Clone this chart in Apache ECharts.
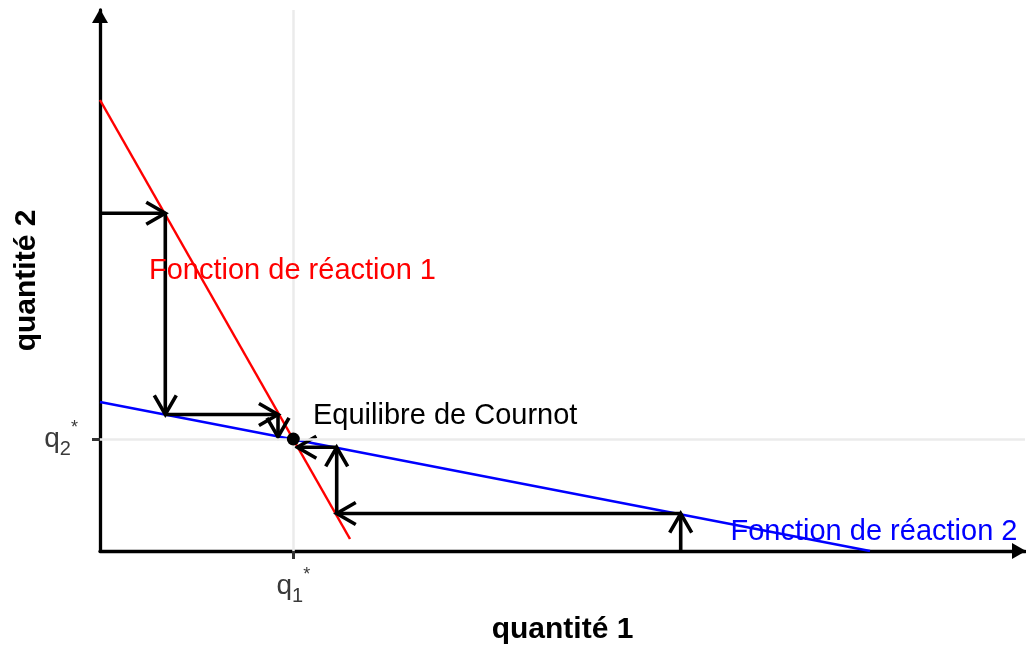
<!DOCTYPE html>
<html>
<head>
<meta charset="utf-8">
<script src="https://cdn.jsdelivr.net/npm/echarts@6/dist/echarts.min.js"></script>
<style>
html,body{margin:0;padding:0;background:#fff;}
#chart{width:1026px;height:646px;}
</style>
</head>
<body>
<div id="chart"></div>
<script>
// ---- data ----
const q1Star = 1.933;
const q2Star = 1.12;
const reaction1X = [0, 2.50];
const reaction1Y = [4.51, 0.12];
const reaction2X = [0, 7.70];
const reaction2Y = [1.49, 0];
const cobwebLeftX = [0, 0.653, 0.653, 1.78, 1.78];
const cobwebLeftY = [3.377, 3.377, 1.365, 1.365, 1.14];
const cobwebRightX = [5.807, 5.807, 2.367, 2.367, 1.973];
const cobwebRightY = [0, 0.375, 0.375, 1.037, 1.037];
const labelText = ['Fonction de réaction 1', 'Fonction de réaction 2', 'Equilibre de Cournot'];
const labelX = [1.925, 7.74, 2.13];
const labelY = [2.80, 0.187, 1.355];
const labelColor = ['#FF0000', '#0000FF', '#000000'];
const labelAlign = ['center', 'center', 'left'];
const xTitle = 'quantité 1';
const yTitle = 'quantité 2';

const FONT = '"Liberation Sans", Arial, Helvetica, sans-serif';

function pairs(xs, ys) { return xs.map((x, i) => [x, ys[i]]); }
function segments(xs, ys) {
  const out = [];
  for (let i = 0; i < xs.length - 1; i++) out.push([xs[i], ys[i], xs[i + 1], ys[i + 1]]);
  return out;
}
const arrowData = segments(cobwebLeftX, cobwebLeftY).concat(segments(cobwebRightX, cobwebRightY));
const labelData = labelText.map((t, i) => [labelX[i], labelY[i], i]);

function renderArrow(params, api) {
  const p0 = api.coord([api.value(0), api.value(1)]);
  const p1 = api.coord([api.value(2), api.value(3)]);
  const ang = Math.atan2(p1[1] - p0[1], p1[0] - p0[0]);
  const L = 22, a = Math.PI / 6;
  const w1 = [p1[0] - L * Math.cos(ang - a), p1[1] - L * Math.sin(ang - a)];
  const w2 = [p1[0] - L * Math.cos(ang + a), p1[1] - L * Math.sin(ang + a)];
  return {
    type: 'group',
    children: [
      { type: 'line', shape: { x1: p0[0], y1: p0[1], x2: p1[0], y2: p1[1] },
        style: { stroke: '#000', lineWidth: 3.6, lineCap: 'butt' } },
      { type: 'polyline', shape: { points: [w1, p1, w2] },
        style: { stroke: '#000', lineWidth: 3.6, fill: null, lineJoin: 'miter' } }
    ]
  };
}
function renderLabel(params, api) {
  const i = api.value(2);
  const p = api.coord([api.value(0), api.value(1)]);
  return {
    type: 'text', x: p[0], y: p[1],
    style: { text: labelText[i], fill: labelColor[i], fontSize: 29, fontFamily: FONT,
             align: labelAlign[i], verticalAlign: 'middle' }
  };
}

const tickRich = {
  q: { fontSize: 28, lineHeight: 40, verticalAlign: 'middle', color: '#3a3a3a', fontFamily: FONT },
  s: { fontSize: 20, lineHeight: 26, verticalAlign: 'bottom', color: '#3a3a3a', fontFamily: FONT },
  p: { fontSize: 18, lineHeight: 20, verticalAlign: 'top', color: '#3a3a3a', fontFamily: FONT }
};

const chart = echarts.init(document.getElementById('chart'), null, { renderer: 'canvas' });
chart.setOption({
  animation: false,
  backgroundColor: '#ffffff',
  grid: { left: 100, right: 1, top: 10, bottom: 95, containLabel: false, outerBoundsMode: 'none' },
  xAxis: {
    type: 'value', min: 0, max: 9.25,
    name: xTitle, nameLocation: 'middle', nameGap: 64, nameMoveOverlap: false,
    nameTextStyle: { fontSize: 30, fontWeight: 'bold', color: '#000', fontFamily: FONT },
    axisLine: { show: true, onZero: false, lineStyle: { color: '#000', width: 3.3 },
                symbol: ['none', 'triangle'], symbolSize: [16, 14], symbolOffset: [0, -6] },
    axisTick: { show: true, customValues: [q1Star], length: 8, lineStyle: { color: '#333333', width: 3 } },
    axisLabel: { show: true, customValues: [q1Star], margin: 15,
                 formatter: () => '{q|q}{s|1}{p|*}', rich: tickRich },
    splitLine: { show: false }
  },
  yAxis: {
    type: 'value', min: 0, max: 5.41,
    name: yTitle, nameLocation: 'middle', nameGap: 58, nameMoveOverlap: false,
    nameTextStyle: { fontSize: 30, fontWeight: 'bold', color: '#000', fontFamily: FONT },
    axisLine: { show: true, onZero: false, lineStyle: { color: '#000', width: 3.3 },
                symbol: ['none', 'triangle'], symbolSize: [16, 14], symbolOffset: [0, -6] },
    axisTick: { show: true, customValues: [q2Star], length: 8, lineStyle: { color: '#333333', width: 3 } },
    axisLabel: { show: true, customValues: [q2Star], margin: 22,
                 formatter: () => '{q|q}{s|2}{p|*}', rich: tickRich },
    splitLine: { show: false }
  },
  series: [
    {
      type: 'line', data: [], z: 1, silent: true,
      markLine: {
        silent: true, symbol: ['none', 'none'], animation: false,
        label: { show: false },
        lineStyle: { color: '#EBEBEB', width: 2.5, type: 'solid' },
        data: [{ xAxis: q1Star }, { yAxis: q2Star }]
      }
    },
    { type: 'line', data: pairs(reaction1X, reaction1Y), showSymbol: false, z: 3,
      lineStyle: { color: '#FF0000', width: 2.5 }, silent: true },
    { type: 'line', data: pairs(reaction2X, reaction2Y), showSymbol: false, z: 3,
      lineStyle: { color: '#0000FF', width: 2.5 }, silent: true },
    { type: 'custom', renderItem: renderArrow, data: arrowData, z: 4, clip: false, silent: true,
      encode: { x: [0, 2], y: [1, 3] } },
    { type: 'scatter', data: [[q1Star, q2Star]], symbolSize: 13, z: 5, silent: true,
      itemStyle: { color: '#000', opacity: 1 } },
    { type: 'custom', renderItem: renderLabel, data: labelData, z: 6, clip: false, silent: true,
      encode: { x: 0, y: 1 } }
  ]
});
</script>
</body>
</html>
